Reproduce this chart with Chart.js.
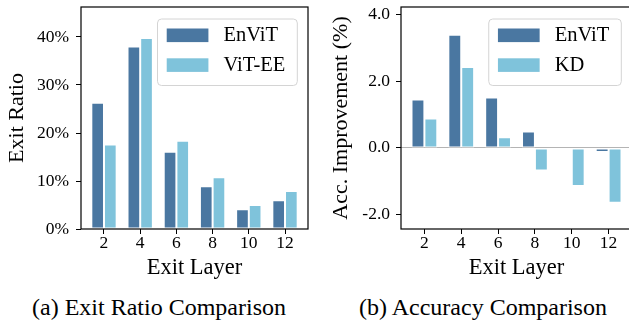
<!DOCTYPE html>
<html><head><meta charset="utf-8">
<script src="https://cdn.jsdelivr.net/npm/chart.js@4.4.1/dist/chart.umd.min.js"></script>
<style>
html,body{margin:0;padding:0;background:#fff;overflow:hidden;width:629px;height:329px;}
#wrap{position:relative;width:629px;height:329px;overflow:hidden;}
.cv{position:absolute;top:0;}
.cap{position:absolute;top:295px;font-family:"Liberation Serif","Times New Roman",serif;font-size:24px;line-height:24px;text-align:center;color:#000;white-space:nowrap;}
</style></head><body>
<div id="wrap">
<div class="cv" style="left:0;width:320px;height:290px"><canvas id="c1" width="320" height="290"></canvas></div>
<div class="cv" style="left:320px;width:320px;height:290px"><canvas id="c2" width="320" height="290"></canvas></div>
<div class="cap" style="left:0;width:318px">(a) Exit Ratio Comparison</div>
<div class="cap" style="left:320px;width:326px">(b) Accuracy Comparison</div>
</div>
<script>
const exitLayers = ['2','4','6','8','10','12'];
const exitRatioEnViT = [26.3, 38.0, 16.1, 8.9, 4.1, 6.0];
const exitRatioViTEE = [17.6, 39.8, 18.4, 10.8, 5.0, 7.9];
const accEnViT = [1.45, 3.39, 1.51, 0.49, 0.0, -0.12];
const accKD = [0.88, 2.42, 0.32, -0.68, -1.14, -1.64];
const ratioTicks = [0, 10, 20, 30, 40];
const accTicks = [-2, 0, 2, 4];

const DARK = '#4a77a1';
const LIGHT = '#7fc3db';
const FAM = '"Liberation Serif", "Times New Roman", serif';
Chart.defaults.font.family = FAM;

const boxLegend = {
  id: 'boxLegend',
  afterDatasetsDraw(chart) {
    const ctx = chart.ctx, a = chart.chartArea;
    ctx.save();
    ctx.font = '20.5px ' + FAM;
    const items = chart.data.datasets.map(d => ({label: d.label, color: d.backgroundColor}));
    const tw = Math.max(...items.map(i => ctx.measureText(i.label).width));
    const w = 66 + tw + 12, h = 66.5;
    const x = a.right - 10.7 - w, y = a.top + 12;
    ctx.beginPath();
    ctx.roundRect(x, y, w, h, 4);
    ctx.fillStyle = 'rgba(255,255,255,0.85)';
    ctx.fill();
    ctx.strokeStyle = '#d4d4d4';
    ctx.lineWidth = 1;
    ctx.stroke();
    items.forEach((it, i) => {
      const sy = y + 9.5 + i * 29.8;
      ctx.fillStyle = it.color;
      ctx.fillRect(x + 9.2, sy, 41.7, 13.6);
      ctx.fillStyle = '#000';
      ctx.textBaseline = 'middle';
      ctx.textAlign = 'left';
      ctx.fillText(it.label, x + 66, sy + 7);
    });
    ctx.restore();
  }
};

const frame = {
  id: 'frame',
  afterDraw(chart) {
    const ctx = chart.ctx, a = chart.chartArea;
    ctx.save();
    ctx.strokeStyle = '#000';
    ctx.lineWidth = 1.2;
    ctx.strokeRect(a.left, a.top, a.right - a.left, a.bottom - a.top);
    ctx.restore();
  }
};

function zeroPad(s) { s.paddingTop = 0; s.paddingBottom = 0; s.paddingLeft = 0; s.paddingRight = 0; }

function makeChart(id, cfg) {
  const toPts = arr => arr.map((v, i) => ({x: i, y: v}));
  const ds = (label, arr, color) => ({
    label, data: toPts(arr), backgroundColor: color,
    borderColor: '#fff',
    borderWidth: c => (c.raw && c.raw.y === 0 ? 0 : 1),
    borderSkipped: false,
    barPercentage: 1.0, categoryPercentage: 0.7
  });
  return new Chart(document.getElementById(id), {
    type: 'bar',
    data: {datasets: [ds(cfg.nameA, cfg.a, DARK), ds(cfg.nameB, cfg.b, LIGHT)]},
    options: {
      responsive: false, animation: false,
      layout: {padding: {top: 7, right: cfg.padRight, left: 0, bottom: 0}},
      plugins: {legend: {display: false}, tooltip: {enabled: false}},
      scales: {
        x: {
          type: 'linear', min: -0.635, max: 5.635, offset: false,
          afterBuildTicks: s => { s.ticks = exitLayers.map((_, i) => ({value: i})); },
          afterFit: s => { s.height = 61; zeroPad(s); },
          ticks: {callback: v => exitLayers[v], font: {size: 17.5, lineHeight: 1}, color: '#000', padding: 1, maxRotation: 0, autoSkip: false},
          grid: {display: true, offset: false, drawOnChartArea: false, drawTicks: true, tickLength: 5, tickColor: '#000', tickWidth: 1},
          border: {display: false},
          title: {display: true, text: 'Exit Layer', font: {size: 22.5}, color: '#000', padding: {top: 0, bottom: 8}}
        },
        y: {
          min: cfg.yMin, max: cfg.yMax,
          afterBuildTicks: s => { s.ticks = cfg.yTicks.map(v => ({value: v})); },
          afterFit: s => { s.width = 81; zeroPad(s); },
          ticks: {callback: cfg.yFmt, font: {size: 17.5}, color: '#000', padding: cfg.yLabelPad},
          grid: {
            drawOnChartArea: cfg.zeroLine, drawTicks: true, tickLength: 5, tickColor: '#000', tickWidth: 1,
            color: c => (c.tick && c.tick.value === 0 ? '#b4b4b4' : 'rgba(0,0,0,0)'), lineWidth: 1
          },
          border: {display: false},
          title: {display: true, text: cfg.yTitle, font: {size: 22}, color: '#000', padding: {top: cfg.titlePad, bottom: 0}}
        }
      }
    },
    plugins: [boxLegend, frame]
  });
}

makeChart('c1', {
  a: exitRatioEnViT, b: exitRatioViTEE, nameA: 'EnViT', nameB: 'ViT-EE',
  yMin: 0, yMax: 46.25, yTicks: ratioTicks, yFmt: v => v + '%',
  yTitle: 'Exit Ratio', padRight: 12, titlePad: 4.5, yLabelPad: 7, zeroLine: false
});
makeChart('c2', {
  a: accEnViT, b: accKD, nameA: 'EnViT', nameB: 'KD',
  yMin: -2.43, yMax: 4.22, yTicks: accTicks, yFmt: v => v.toFixed(1),
  yTitle: 'Acc. Improvement (%)', padRight: 8, titlePad: 8.5, yLabelPad: 6, zeroLine: true
});
</script>
</body></html>
